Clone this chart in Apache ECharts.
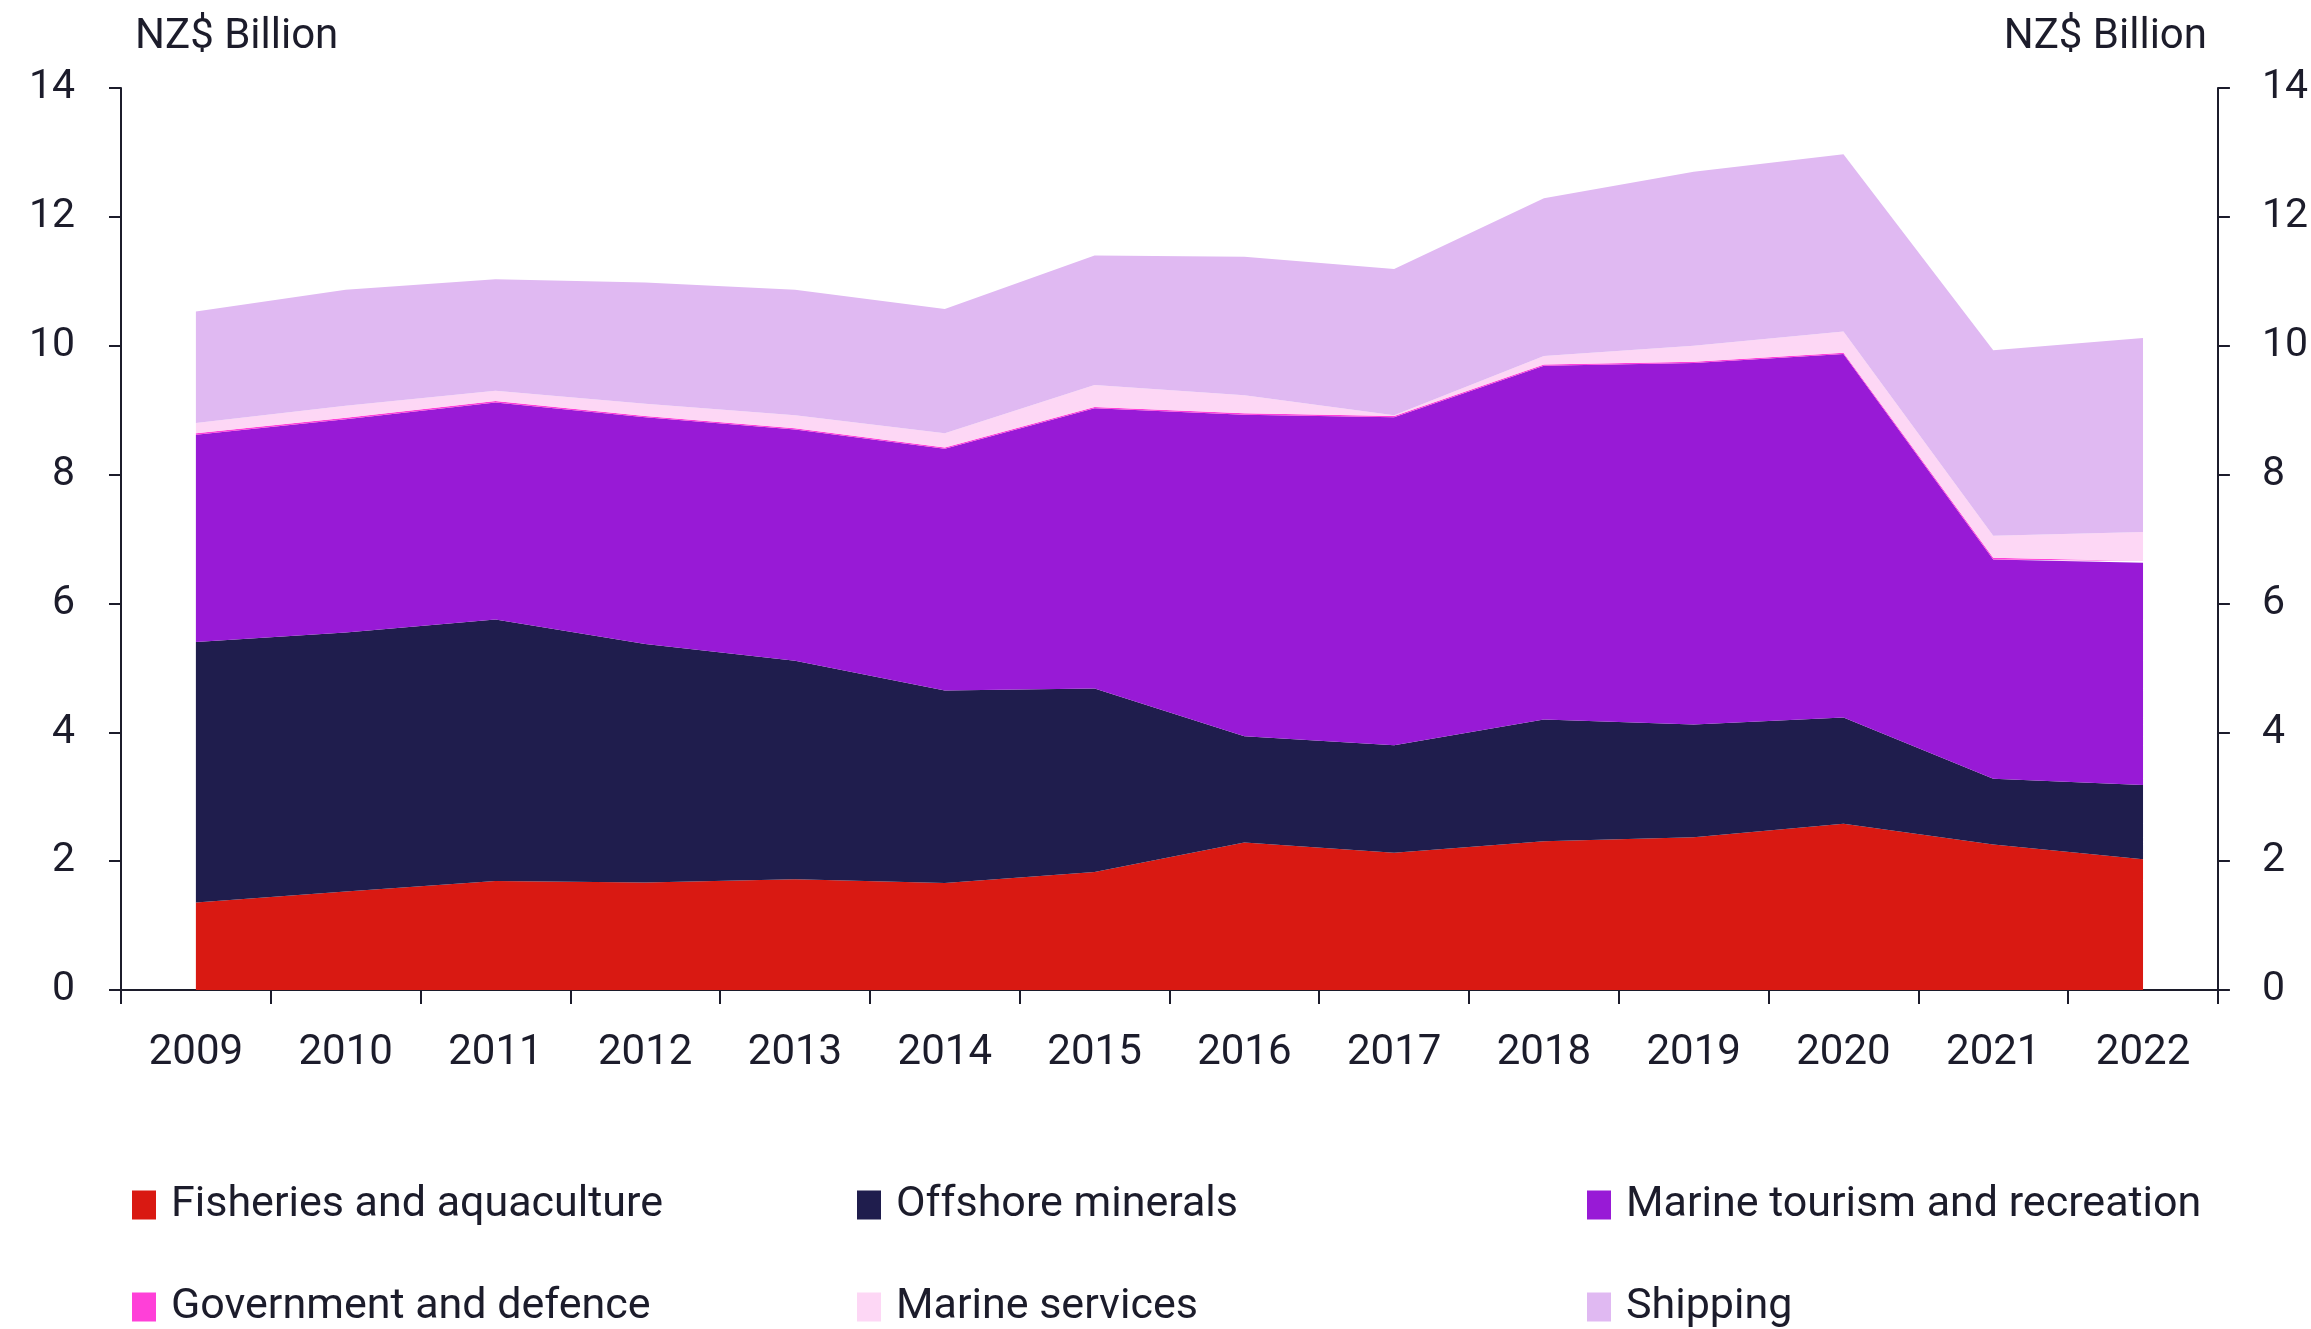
<!DOCTYPE html>
<html>
<head>
<meta charset="utf-8">
<title>Marine economy GDP by sector, 2009–2022</title>
<script src="https://cdn.jsdelivr.net/npm/echarts@6.0.0/dist/echarts.min.js"></script>
<style>
  html, body { margin: 0; padding: 0; background: #ffffff; }
  #chart { width: 2311px; height: 1329px; }
</style>
</head>
<body>
<div id="chart"></div>
<script>
// Years on the horizontal axis
const years = ['2009', '2010', '2011', '2012', '2013', '2014', '2015',
               '2016', '2017', '2018', '2019', '2020', '2021', '2022'];

// Contribution of each sector, NZ$ billion (stacked bottom to top)
const fisheries         = [1.36, 1.53, 1.69, 1.67, 1.72, 1.66, 1.83, 2.29, 2.13, 2.31, 2.37, 2.58, 2.26, 2.03];
const offshoreMinerals  = [4.04, 4.02, 4.06, 3.70, 3.39, 2.99, 2.85, 1.65, 1.67, 1.89, 1.75, 1.65, 1.02, 1.15];
const marineTourism     = [3.22, 3.31, 3.37, 3.52, 3.59, 3.75, 4.35, 4.99, 5.09, 5.49, 5.61, 5.64, 3.40, 3.45];
const governmentDefence = [0.02, 0.02, 0.02, 0.02, 0.02, 0.02, 0.02, 0.02, 0.02, 0.02, 0.02, 0.02, 0.03, 0.03];
const marineServices    = [0.16, 0.19, 0.16, 0.19, 0.20, 0.22, 0.34, 0.28, 0.01, 0.13, 0.25, 0.33, 0.34, 0.45];
const shipping          = [1.73, 1.80, 1.73, 1.88, 1.95, 1.93, 2.01, 2.15, 2.27, 2.45, 2.70, 2.75, 2.88, 3.01];

// Value axis range
const yMin = 0;
const yMax = 14;
const yStep = 2;

const unitLabel = 'NZ$ Billion';

const sectors = [
  { name: 'Fisheries and aquaculture',      data: fisheries,         color: '#D91912' },
  { name: 'Offshore minerals',              data: offshoreMinerals,  color: '#1F1D4D' },
  { name: 'Marine tourism and recreation',  data: marineTourism,     color: '#981AD6' },
  { name: 'Government and defence',         data: governmentDefence, color: '#FF40D8' },
  { name: 'Marine services',                data: marineServices,    color: '#FDD7F5' },
  { name: 'Shipping',                       data: shipping,          color: '#E0B9F2' }
];

const ink = '#1c1c2b';
const axisFont = 'Roboto, "Noto Sans", sans-serif';
const textFont = 'Roboto, "Noto Sans", sans-serif';

const chart = echarts.init(document.getElementById('chart'), null, { renderer: 'canvas' });

function valueAxis(position) {
  return {
    type: 'value',
    position: position,
    min: yMin,
    max: yMax,
    interval: yStep,
    splitLine: { show: false },
    axisLine: { show: true, lineStyle: { color: ink, width: 2 } },
    axisTick: { show: true, length: 12, lineStyle: { color: ink, width: 2 } },
    axisLabel: {
      color: ink,
      fontFamily: axisFont,
      fontSize: 41,
      margin: position === 'left' ? 46 : 44
    }
  };
}

// One legend entry per component so the entries sit on a fixed 3 x 2 layout
const legendSlots = [
  { left: 127,  top: 1178 },  // Fisheries
  { left: 852,  top: 1178 },  // Offshore minerals
  { left: 1582, top: 1178 },  // Tourism
  { left: 127,  top: 1280 },  // Government
  { left: 852,  top: 1280 },  // Marine services
  { left: 1582, top: 1280 }   // Shipping
];

function legendItem(slot, name) {
  return {
    left: slot.left,
    top: slot.top,
    itemWidth: 24,
    itemHeight: 29,
    icon: 'rect',
    selectedMode: false,
    data: [name],
    textStyle: {
      color: ink,
      fontFamily: textFont,
      fontSize: 43,
      lineHeight: 44,
      padding: [0, 0, 0, 10]
    }
  };
}

const option = {
  animation: false,
  backgroundColor: '#ffffff',
  grid: { left: 121, right: 88, top: 88, bottom: 339, containLabel: false },
  xAxis: {
    type: 'category',
    data: years,
    boundaryGap: true,
    axisLine: { show: true, lineStyle: { color: ink, width: 2 } },
    axisTick: { show: true, length: 14, alignWithLabel: false, lineStyle: { color: ink, width: 2 } },
    axisLabel: { color: ink, fontFamily: axisFont, fontSize: 42, margin: 42 }
  },
  yAxis: [valueAxis('left'), valueAxis('right')],
  legend: sectors.map((s, i) => legendItem(legendSlots[i], s.name)),
  graphic: [
    {
      type: 'text', left: 135, top: 16,
      style: { text: unitLabel, fill: ink, font: '42px ' + textFont }
    },
    {
      type: 'text', right: 104, top: 16,
      style: { text: unitLabel, fill: ink, font: '42px ' + textFont }
    }
  ],
  series: sectors.map(s => ({
    name: s.name,
    type: 'line',
    stack: 'total',
    data: s.data,
    symbol: 'none',
    lineStyle: { width: 0 },
    itemStyle: { color: s.color },
    areaStyle: { color: s.color, opacity: 1 },
    emphasis: { disabled: true }
  }))
};

chart.setOption(option);
</script>
</body>
</html>
